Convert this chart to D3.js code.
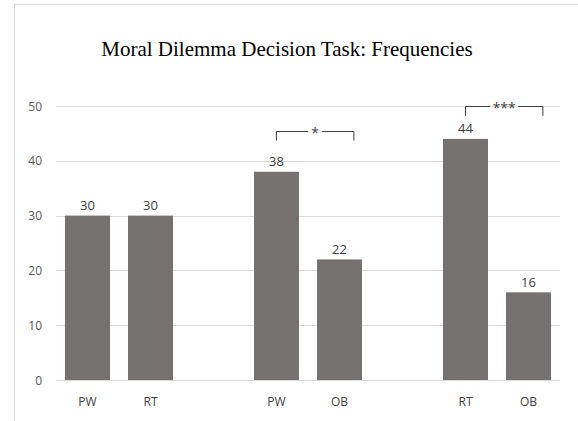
<!DOCTYPE html>
<html><head><meta charset="utf-8">
<script src="https://cdn.jsdelivr.net/npm/d3@7"></script>
<style>body{margin:0;background:#fff}svg{display:block}</style>
</head><body>
<script>
const slots = ["PW1","RT1","gap1","PW2","OB2","gap2","RT3","OB3"];
const categories = ["PW","RT","PW","OB","RT","OB"];
const slotKeys = ["PW1","RT1","PW2","OB2","RT3","OB3"];
const values = [30,30,38,22,44,16];
const yTicks = [0,10,20,30,40,50];
const brackets = [
  {from:"PW2", to:"OB2", label:"*", top:45.5, bottom:43.7},
  {from:"RT3", to:"OB3", label:"***", top:50, bottom:48.2}
];
const title = "Moral Dilemma Decision Task: Frequencies";

const W=578,H=421;
const svg=d3.select("body").append("svg").attr("width",W).attr("height",H);
svg.append("rect").attr("x",14.5).attr("y",4.5).attr("width",W).attr("height",H)
  .attr("fill","#fff").attr("stroke","#d9d9d9");

const x=d3.scaleBand().domain(slots).range([56,560]).paddingInner(0.286).paddingOuter(0.143);
const y=d3.scaleLinear().domain([0,50]).range([380,106]);

svg.append("text").attr("x",287).attr("y",56).attr("text-anchor","middle")
  .attr("font-family","'Liberation Serif','Times New Roman',serif").attr("font-size",21)
  .attr("fill","#000").text(title);

// grid
svg.append("g").selectAll("line").data(yTicks).join("line")
  .attr("x1",56).attr("x2",560).attr("y1",d=>Math.round(y(d))+0.5).attr("y2",d=>Math.round(y(d))+0.5)
  .attr("stroke","#d9d9d9").attr("stroke-width",1);

// y labels
svg.append("g").selectAll("text").data(yTicks).join("text")
  .attr("x",42).attr("y",d=>y(d)+4.5).attr("text-anchor","end")
  .attr("font-family","'Open Sans',sans-serif").attr("font-size",12).attr("fill","#595959")
  .text(d=>d);

// bars
const data=slotKeys.map((k,i)=>({k,cat:categories[i],v:values[i]}));
svg.append("g").selectAll("rect").data(data).join("rect")
  .attr("x",d=>x(d.k)).attr("width",x.bandwidth())
  .attr("y",d=>y(d.v)).attr("height",d=>y(0)-y(d.v)).attr("fill","#767171");

// value labels
svg.append("g").selectAll("text").data(data).join("text")
  .attr("x",d=>x(d.k)+x.bandwidth()/2).attr("y",d=>y(d.v)-5.5).attr("text-anchor","middle")
  .attr("font-family","'Open Sans',sans-serif").attr("font-size",13).attr("fill","#404040")
  .text(d=>d.v);

// category labels
svg.append("g").selectAll("text").data(data).join("text")
  .attr("x",d=>x(d.k)+x.bandwidth()/2).attr("y",406).attr("text-anchor","middle")
  .attr("font-family","'Open Sans',sans-serif").attr("font-size",12).attr("fill","#404040")
  .text(d=>d.cat);

// brackets
brackets.forEach(b=>{
  const x1=x(b.from)+x.bandwidth()/2;
  const x2=x(b.to)+x.bandwidth()/2+x.bandwidth()*0.32;
  const yt=Math.round(y(b.top))+0.5, yb=y(b.bottom);
  const mid=(x1+x2)/2;
  const half = b.label.length===1?7:14;
  const g=svg.append("g").attr("stroke","#404040").attr("stroke-width",1).attr("fill","none");
  g.append("path").attr("d",`M${x1},${yb}V${yt}H${mid-half}`);
  g.append("path").attr("d",`M${mid+half},${yt}H${x2}V${yb}`);
  svg.append("text").attr("x",mid).attr("y",yt+6).attr("text-anchor","middle")
    .attr("font-family","'Open Sans',sans-serif").attr("font-size",14).attr("fill","#404040")
    .text(b.label);
});
</script>
</body></html>
